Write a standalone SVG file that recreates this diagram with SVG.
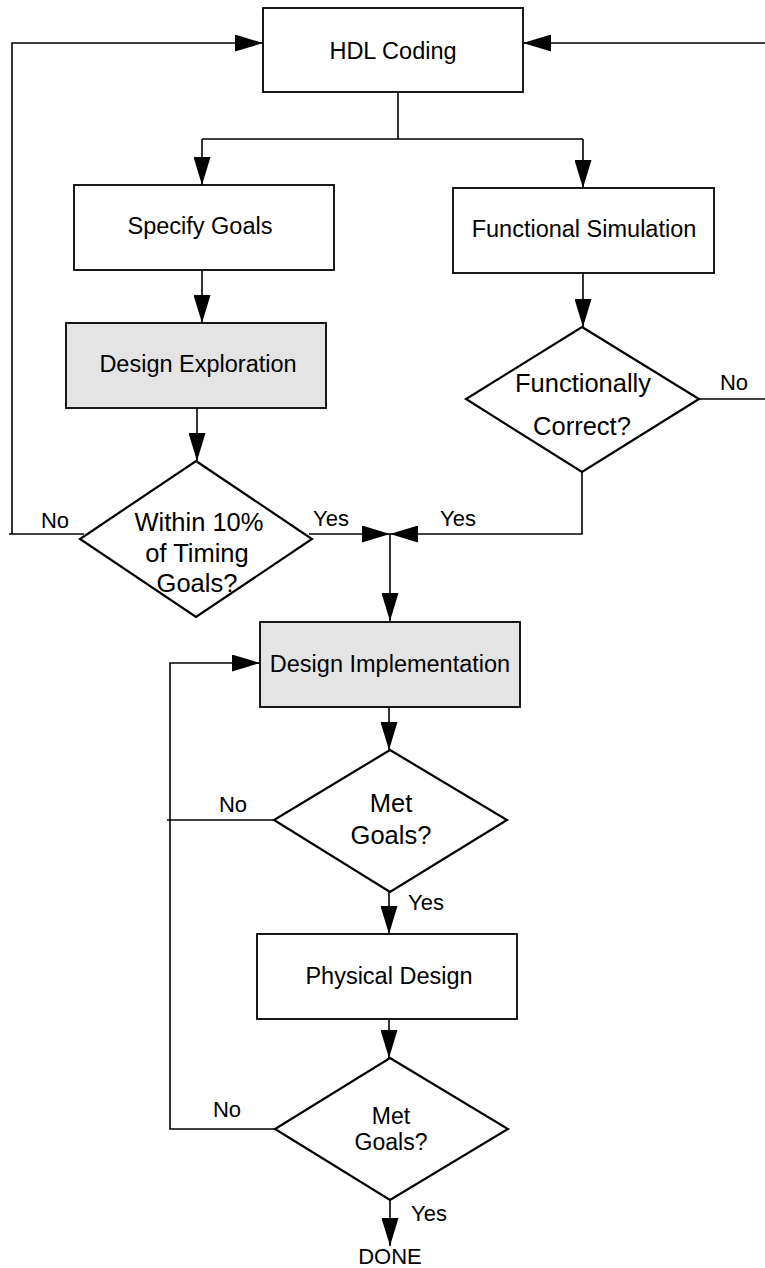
<svg xmlns="http://www.w3.org/2000/svg" width="765" height="1268" viewBox="0 0 765 1268">
<style>
text { font-family: "Liberation Sans", Arial, sans-serif; fill: #000; text-anchor: middle; }
.box { fill: #fff; stroke: #000; stroke-width: 1.8; }
.gray { fill: #e4e4e4; }
.dia { fill: #fff; stroke: #000; stroke-width: 2.2; }
.ln { fill: none; stroke: #000; stroke-width: 1.6; }
.bt { font-size: 23.5px; }
.dt { font-size: 25.5px; }
.lb { font-size: 22px; }
</style>
<defs>
<marker id="ah" markerWidth="28" markerHeight="17" refX="28" refY="8.5" orient="auto" markerUnits="userSpaceOnUse">
<path d="M0,0 L28,8.5 L0,17 Z" fill="#000"/>
</marker>
</defs>
<g id="connectors">
<path class="ln" d="M398,92 V139"/>
<path class="ln" d="M202,139 H583"/>
<path class="ln" d="M202,139 V185" marker-end="url(#ah)"/>
<path class="ln" d="M583,139 V188" marker-end="url(#ah)"/>
<path class="ln" d="M202,270 V323" marker-end="url(#ah)"/>
<path class="ln" d="M197,408 V461" marker-end="url(#ah)"/>
<path class="ln" d="M583,273 V327" marker-end="url(#ah)"/>
<path class="ln" d="M84,534 H9"/>
<path class="ln" d="M12,534 V43 H263" marker-end="url(#ah)"/>
<path class="ln" d="M309,534 H390" marker-end="url(#ah)"/>
<path class="ln" d="M582,472 V534 H390" marker-end="url(#ah)"/>
<path class="ln" d="M699,399 H765"/>
<path class="ln" d="M765,43 H523" marker-end="url(#ah)"/>
<path class="ln" d="M390,534 V621" marker-end="url(#ah)"/>
<path class="ln" d="M389,707 V750" marker-end="url(#ah)"/>
<path class="ln" d="M274,820 H167"/>
<path class="ln" d="M275,1129 H170 V663 H260" marker-end="url(#ah)"/>
<path class="ln" d="M389,892 V934" marker-end="url(#ah)"/>
<path class="ln" d="M389,1019 V1058" marker-end="url(#ah)"/>
<path class="ln" d="M390,1200 V1246" marker-end="url(#ah)"/>
</g>
<g id="hdl">
<rect class="box" x="263" y="8" width="260" height="84"/>
<text class="bt" x="393" y="59">HDL Coding</text>
</g>
<g id="specify">
<rect class="box" x="74" y="185" width="260" height="85"/>
<text class="bt" x="200" y="234">Specify Goals</text>
</g>
<g id="funcsim">
<rect class="box" x="453" y="188" width="261" height="85"/>
<text class="bt" x="584" y="237">Functional Simulation</text>
</g>
<g id="explore">
<rect class="box gray" x="66" y="323" width="260" height="85"/>
<text class="bt" x="198" y="372">Design Exploration</text>
</g>
<g id="funccorrect">
<polygon class="dia" points="582,327 699,399 582,472 466,399"/>
<text class="dt" x="583" y="392">Functionally</text>
<text class="dt" x="582" y="435">Correct?</text>
</g>
<g id="within">
<polygon class="dia" points="196,461 312,539 196,617 80,539"/>
<text class="dt" x="199" y="531">Within 10%</text>
<text class="dt" x="197" y="562">of Timing</text>
<text class="dt" x="197" y="592">Goals?</text>
</g>
<g id="impl">
<rect class="box gray" x="260" y="622" width="260" height="85"/>
<text class="bt" x="390" y="672">Design Implementation</text>
</g>
<g id="met1">
<polygon class="dia" points="390,750 507,820 390,892 274,820"/>
<text class="dt" x="391" y="812">Met</text>
<text class="dt" x="391" y="844">Goals?</text>
</g>
<g id="physical">
<rect class="box" x="257" y="934" width="260" height="85"/>
<text class="bt" x="389" y="984">Physical Design</text>
</g>
<g id="met2">
<polygon class="dia" points="390,1058 508,1129 390,1200 275,1129"/>
<text class="dt" x="391" y="1124" style="font-size:23px">Met</text>
<text class="dt" x="391" y="1150" style="font-size:23px">Goals?</text>
</g>
<g id="labels">
<text class="lb" x="55" y="528">No</text>
<text class="lb" x="331" y="526">Yes</text>
<text class="lb" x="458" y="526">Yes</text>
<text class="lb" x="734" y="390">No</text>
<text class="lb" x="233" y="812">No</text>
<text class="lb" x="426" y="910">Yes</text>
<text class="lb" x="227" y="1117">No</text>
<text class="lb" x="429" y="1221">Yes</text>
<text x="390" y="1264" style="font-size:22px">DONE</text>
</g>
</svg>
